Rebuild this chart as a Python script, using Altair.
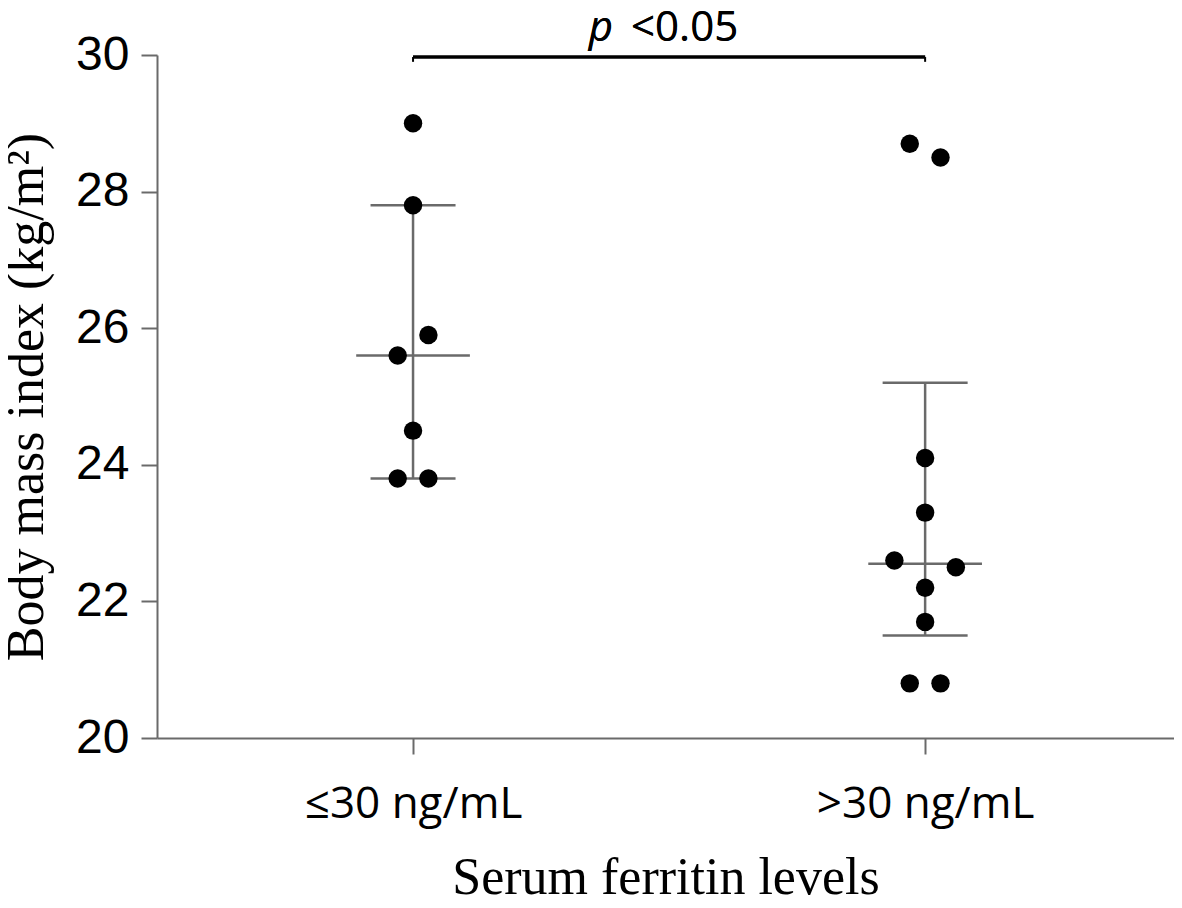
import altair as alt
import pandas as pd

# ---- data ----
GROUPS = ["≤30 ng/mL", ">30 ng/mL"]

# individual BMI values and their horizontal jitter (in column widths)
G1_BMI = [29.0, 27.8, 25.9, 25.6, 24.5, 23.8, 23.8]
G1_JIT = [0.0, 0.0, 0.03, -0.03, 0.0, -0.03, 0.03]
G2_BMI = [28.7, 28.5, 24.1, 23.3, 22.6, 22.5, 22.2, 21.7, 20.8, 20.8]
G2_JIT = [-0.03, 0.03, 0.0, 0.0, -0.06, 0.06, 0.0, 0.0, -0.03, 0.03]

# median and interquartile range per group
MEDIAN = [25.6, 22.55]
LOWER = [23.8, 21.5]
UPPER = [27.8, 25.2]

Y_TICKS = [20, 22, 24, 26, 28, 30]
P_LABEL = "<0.05"

# ---- style constants ----
MED_HALF = 0.111
CAP_HALF = 0.083
GRAY = "#6a6a6a"

pts = pd.DataFrame({
    "group": [GROUPS[0]] * len(G1_BMI) + [GROUPS[1]] * len(G2_BMI),
    "idx": [0] * len(G1_BMI) + [1] * len(G2_BMI),
    "jit": G1_JIT + G2_JIT,
    "bmi": G1_BMI + G2_BMI,
})
pts["pos"] = pts["idx"] + pts["jit"]

summ = pd.DataFrame({
    "group": GROUPS,
    "idx": [0, 1],
    "median": MEDIAN,
    "lower": LOWER,
    "upper": UPPER,
})
summ["med_l"] = summ["idx"] - MED_HALF
summ["med_r"] = summ["idx"] + MED_HALF
summ["cap_l"] = summ["idx"] - CAP_HALF
summ["cap_r"] = summ["idx"] + CAP_HALF

label_expr = f"datum.value == 0 ? '{GROUPS[0]}' : '{GROUPS[1]}'"

x_scale = alt.Scale(domain=[-0.5, 1.486], nice=False, zero=False)
y_scale = alt.Scale(domain=[20, 30], nice=False, zero=False)

x_axis = alt.Axis(
    values=[0, 1], labelExpr=label_expr, title="Serum ferritin levels",
    grid=False, tickSize=16, tickWidth=2, tickColor=GRAY,
    domainColor=GRAY, domainWidth=2, labelLimit=0,
    labelFont="Open Sans", labelFontSize=44, labelColor="black", labelPadding=28,
    titleFont="Liberation Serif", titleFontSize=52, titleFontWeight="normal",
    titleColor="black", titlePadding=26,
)
y_axis = alt.Axis(
    values=Y_TICKS, format="d", title="Body mass index (kg/m²)",
    grid=False, tickSize=16, tickWidth=2, tickColor=GRAY,
    domainColor=GRAY, domainWidth=2, labelLimit=0,
    labelFont="Liberation Sans", labelFontSize=48, labelColor="black", labelPadding=12,
    titleFont="Liberation Serif", titleFontSize=52, titleFontWeight="normal",
    titleColor="black", titlePadding=22,
)

base_s = alt.Chart(summ)

vert = base_s.mark_rule(color=GRAY, strokeWidth=2.5).encode(
    x=alt.X("idx:Q", scale=x_scale, axis=x_axis),
    y=alt.Y("lower:Q", scale=y_scale, axis=y_axis),
    y2="upper:Q",
)
med = base_s.mark_rule(color=GRAY, strokeWidth=2.5).encode(
    x="med_l:Q", x2="med_r:Q", y="median:Q",
)
cap_u = base_s.mark_rule(color=GRAY, strokeWidth=2.5).encode(
    x="cap_l:Q", x2="cap_r:Q", y="upper:Q",
)
cap_l = base_s.mark_rule(color=GRAY, strokeWidth=2.5).encode(
    x="cap_l:Q", x2="cap_r:Q", y="lower:Q",
)

dots = alt.Chart(pts).mark_circle(size=340, color="black", opacity=1).encode(
    x="pos:Q", y="bmi:Q",
)

# significance bracket
sig_line = alt.Chart(summ).mark_rule(color="black", strokeWidth=3).encode(
    x=alt.datum(0), x2=alt.datum(1), y=alt.datum(29.97),
)
sig_ends = alt.Chart(summ).mark_rule(color="black", strokeWidth=2).encode(
    x="idx:Q", y=alt.datum(29.97), y2=alt.datum(29.9),
)
p_italic = alt.Chart(summ).mark_text(
    text="p", font="Open Sans", fontStyle="italic", fontSize=42,
    align="right", baseline="alphabetic", dx=-56, color="black",
).encode(x=alt.datum(0.5), y=alt.value(-14))
p_rest = alt.Chart(summ).mark_text(
    text=P_LABEL, font="Open Sans", fontSize=42,
    align="left", baseline="alphabetic", dx=-38, color="black",
).encode(x=alt.datum(0.5), y=alt.value(-14))

chart = alt.layer(
    vert, med, cap_u, cap_l, dots, sig_line, sig_ends, p_italic, p_rest
).properties(
    width=1017, height=683,
    autosize=alt.AutoSizeParams(type="none"),
    padding={"left": 149, "top": 47, "right": 0, "bottom": 162},
).configure(
    background="white", view=alt.ViewConfig(stroke=None)
)

chart.save("out.html", embed_options={"renderer": "svg", "actions": False})
